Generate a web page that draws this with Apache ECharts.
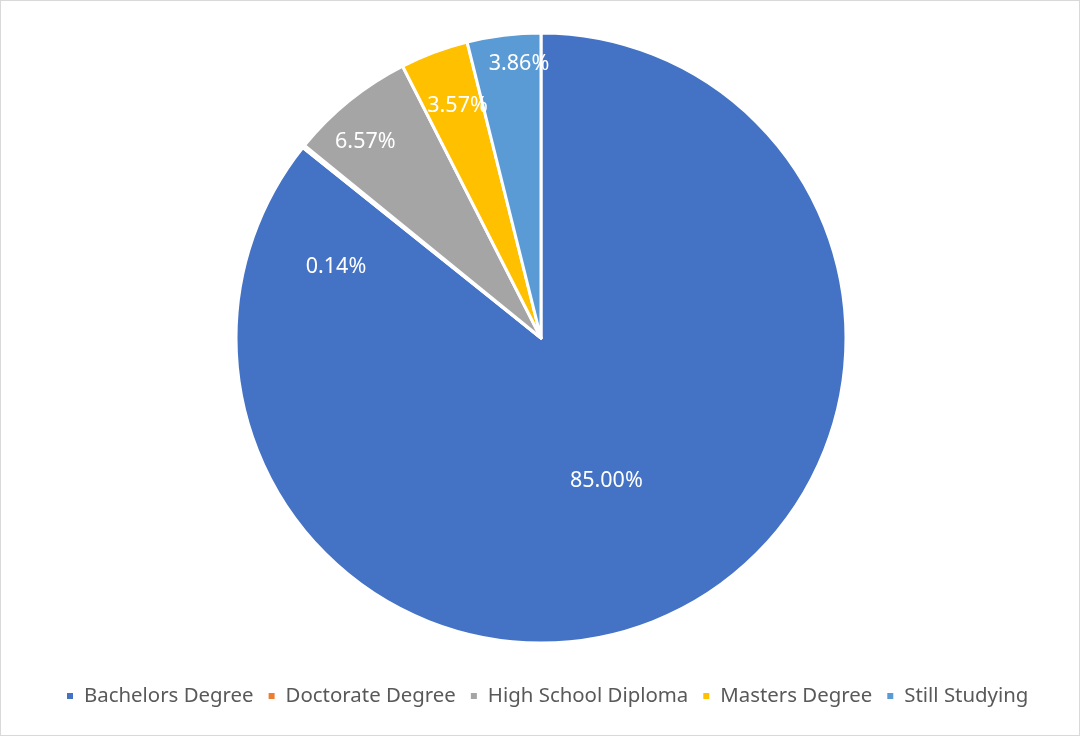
<!DOCTYPE html>
<html>
<head>
<meta charset="utf-8">
<script src="https://cdn.jsdelivr.net/npm/echarts@6/dist/echarts.min.js"></script>
<style>
    html, body { margin: 0; padding: 0; background: #fff; }
    #chart { width: 1078px; height: 734px; border: 1px solid #d9d9d9; }
</style>
</head>
<body>
<div id="chart"></div>
<script>
// categories and shares (percent)
var categories = ['Bachelors Degree', 'Doctorate Degree', 'High School Diploma', 'Masters Degree', 'Still Studying'];
var shares = [85.00, 0.14, 6.57, 3.57, 3.86];
var colors = ['#4472C4', '#ED7D31', '#A5A5A5', '#FFC000', '#5B9BD5'];

// label nudges from the 'inside' spot, to follow where Excel put them
var labelNudge = [[-2, 3], [-84, 27], [-78, -75], [-29, -86], [-3, -120]];

var myChart = echarts.init(document.getElementById('chart'));

var pieData = [];
for (var i = 0; i < categories.length; i++) {
    pieData.push({
        name: categories[i],
        value: shares[i],
        itemStyle: { color: colors[i] },
        label: { offset: labelNudge[i] }
    });
}

var option = {
    animation: false,
    legend: {
        bottom: 24,
        left: 59,
        itemWidth: 8,
        itemHeight: 8,
        itemGap: 13,
        icon: 'rect',
        textStyle: {
            fontFamily: 'Noto Sans',
            fontSize: 20.4,
            color: '#595959',
            padding: [0, 0, 0, 5]
        },
        data: categories
    },
    series: [{
        type: 'pie',
        center: [540, 337],
        radius: [0, 305],
        startAngle: 90,
        clockwise: true,
        avoidLabelOverlap: false,
        itemStyle: {
            borderColor: '#ffffff',
            borderWidth: 3
        },
        label: {
            show: true,
            position: 'inside',
            color: '#ffffff',
            fontFamily: 'Noto Sans',
            fontSize: 21.5,
            formatter: function (p) {
                return p.value.toFixed(2) + '%';
            }
        },
        labelLine: { show: false },
        emphasis: { disabled: true },
        data: pieData
    }]
};

myChart.setOption(option);
</script>
</body>
</html>
